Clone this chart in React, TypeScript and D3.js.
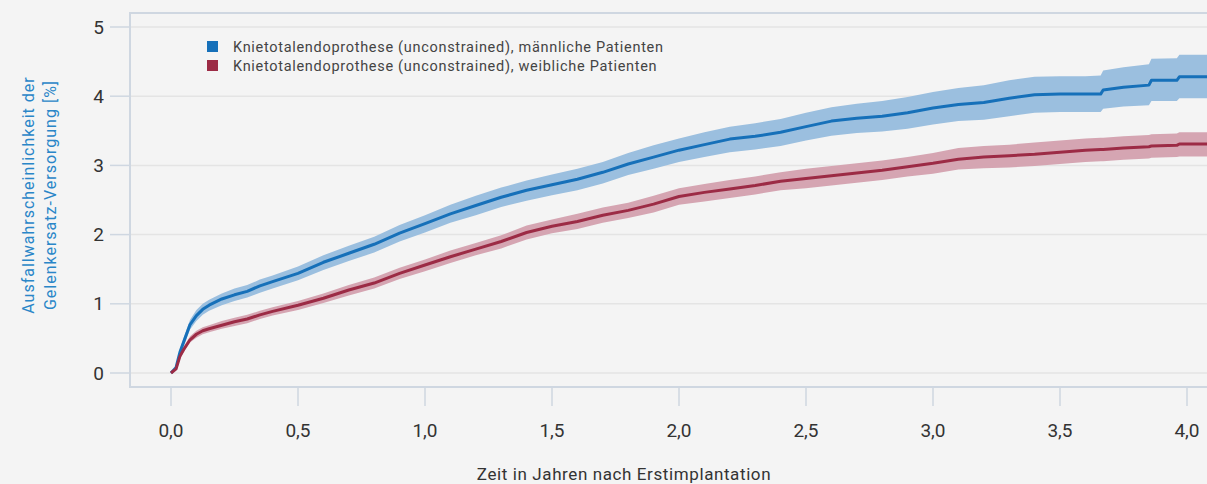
import React from "react";
import * as d3 from "d3";

const time = [0, 0.02, 0.035, 0.05, 0.075, 0.1, 0.125, 0.15, 0.2, 0.25, 0.3, 0.35, 0.4, 0.5, 0.6, 0.7, 0.8, 0.9, 1.0, 1.1, 1.2, 1.3, 1.4, 1.5, 1.6, 1.7, 1.8, 1.9, 2.0, 2.1, 2.2, 2.3, 2.4, 2.5, 2.6, 2.7, 2.8, 2.9, 3.0, 3.1, 3.2, 3.3, 3.4, 3.5, 3.6, 3.66, 3.67, 3.75, 3.85, 3.86, 3.96, 3.97, 4.0, 4.2];

const maleValue = [0, 0.08, 0.3, 0.45, 0.7, 0.83, 0.92, 0.98, 1.07, 1.13, 1.18, 1.26, 1.32, 1.44, 1.6, 1.73, 1.86, 2.02, 2.16, 2.3, 2.42, 2.54, 2.64, 2.72, 2.8, 2.9, 3.02, 3.12, 3.22, 3.3, 3.38, 3.42, 3.48, 3.56, 3.64, 3.68, 3.71, 3.76, 3.83, 3.88, 3.91, 3.97, 4.02, 4.03, 4.03, 4.03, 4.09, 4.13, 4.16, 4.23, 4.23, 4.28, 4.28, 4.28];
const maleLower = [0, 0.05, 0.25, 0.39, 0.63, 0.75, 0.84, 0.9, 0.98, 1.04, 1.09, 1.16, 1.22, 1.34, 1.49, 1.62, 1.74, 1.9, 2.03, 2.17, 2.28, 2.4, 2.49, 2.57, 2.64, 2.74, 2.86, 2.95, 3.05, 3.12, 3.19, 3.23, 3.28, 3.36, 3.43, 3.47, 3.49, 3.53, 3.59, 3.64, 3.66, 3.71, 3.76, 3.77, 3.77, 3.77, 3.82, 3.85, 3.87, 3.93, 3.93, 3.97, 3.97, 3.97];
const maleUpper = [0, 0.11, 0.35, 0.51, 0.77, 0.91, 1.0, 1.06, 1.15, 1.22, 1.27, 1.35, 1.41, 1.54, 1.7, 1.84, 1.97, 2.14, 2.28, 2.43, 2.56, 2.68, 2.78, 2.87, 2.95, 3.05, 3.18, 3.29, 3.39, 3.48, 3.56, 3.61, 3.67, 3.76, 3.84, 3.89, 3.93, 3.99, 4.06, 4.12, 4.16, 4.23, 4.28, 4.29, 4.29, 4.3, 4.37, 4.42, 4.46, 4.54, 4.55, 4.6, 4.6, 4.6];

const femaleValue = [0, 0.06, 0.24, 0.34, 0.48, 0.56, 0.61, 0.64, 0.69, 0.74, 0.78, 0.84, 0.89, 0.98, 1.08, 1.2, 1.3, 1.44, 1.56, 1.68, 1.79, 1.9, 2.03, 2.12, 2.19, 2.28, 2.35, 2.44, 2.55, 2.61, 2.66, 2.71, 2.77, 2.81, 2.85, 2.89, 2.93, 2.98, 3.03, 3.09, 3.12, 3.14, 3.16, 3.19, 3.22, 3.23, 3.23, 3.25, 3.27, 3.28, 3.29, 3.31, 3.31, 3.31];
const femaleLower = [0, 0.04, 0.2, 0.3, 0.44, 0.51, 0.56, 0.59, 0.64, 0.68, 0.72, 0.78, 0.83, 0.91, 1.01, 1.12, 1.22, 1.36, 1.47, 1.59, 1.7, 1.8, 1.93, 2.02, 2.08, 2.17, 2.24, 2.32, 2.43, 2.48, 2.53, 2.58, 2.64, 2.67, 2.71, 2.75, 2.79, 2.84, 2.88, 2.94, 2.96, 2.97, 2.99, 3.02, 3.05, 3.06, 3.06, 3.08, 3.1, 3.11, 3.12, 3.13, 3.13, 3.13];
const femaleUpper = [0, 0.08, 0.28, 0.38, 0.53, 0.61, 0.66, 0.69, 0.75, 0.8, 0.84, 0.9, 0.95, 1.04, 1.15, 1.27, 1.38, 1.52, 1.64, 1.77, 1.88, 1.99, 2.13, 2.22, 2.3, 2.39, 2.46, 2.56, 2.67, 2.73, 2.79, 2.84, 2.9, 2.95, 2.99, 3.03, 3.07, 3.12, 3.18, 3.25, 3.28, 3.3, 3.33, 3.36, 3.39, 3.4, 3.4, 3.42, 3.44, 3.45, 3.46, 3.48, 3.48, 3.48];

const xTicks = [0, 0.5, 1.0, 1.5, 2.0, 2.5, 3.0, 3.5, 4.0];
const yTicks = [0, 1, 2, 3, 4, 5];
const legendLabels = [
  "Knietotalendoprothese (unconstrained), männliche Patienten",
  "Knietotalendoprothese (unconstrained), weibliche Patienten",
];

const W = 1207;
const H = 484;
const FONT = "Roboto, 'DejaVu Sans', sans-serif";

export default function App() {
  const x = d3.scaleLinear().domain([0, 4]).range([171, 1187]);
  const y = d3.scaleLinear().domain([0, 5]).range([373, 27]);
  const frame = { left: 130, top: 13, bottom: 387 };

  const series = [
    { v: maleValue, lo: maleLower, hi: maleUpper, line: "#1670b9", band: "#9bbfdf" },
    { v: femaleValue, lo: femaleLower, hi: femaleUpper, line: "#9c2b45", band: "#d5a5b2" },
  ];

  const area = (lo: number[], hi: number[]) =>
    d3
      .area<number>()
      .x((_, i) => x(time[i]))
      .y0((_, i) => y(lo[i]))
      .y1((_, i) => y(hi[i]))
      .curve(d3.curveLinear)(time as any) as string;
  const line = (v: number[]) =>
    d3
      .line<number>()
      .x((_, i) => x(time[i]))
      .y((_, i) => y(v[i]))
      .curve(d3.curveLinear)(time as any) as string;

  const fmt = (d: number) => d.toFixed(1).replace(".", ",");

  return (
    <div style={{ position: "fixed", left: 0, top: 0, width: W, height: H, background: "#f4f4f4" }}>
      <svg width={W} height={H} style={{ display: "block" }} fontFamily={FONT}>
        <rect x={0} y={0} width={W} height={H} fill="#f4f4f4" />
        <defs>
          <clipPath id="plotclip">
            <rect x={frame.left} y={frame.top} width={W - frame.left} height={frame.bottom - frame.top} />
          </clipPath>
        </defs>
        {/* grid */}
        {yTicks.map((t) => (
          <line key={"g" + t} x1={frame.left} x2={W} y1={y(t)} y2={y(t)} stroke="#e4e4e4" strokeWidth={1.5} />
        ))}
        {/* frame */}
        <rect x={frame.left} y={frame.top} width={W - frame.left + 20} height={frame.bottom - frame.top} fill="none" stroke="#cfd7e1" strokeWidth={2} />
        {/* y ticks */}
        {yTicks.map((t) => (
          <g key={"y" + t}>
            <line x1={110} x2={frame.left} y1={y(t)} y2={y(t)} stroke="#cfd7e1" strokeWidth={1.5} />
            <text x={104} y={y(t)} dy="0.35em" textAnchor="end" fontSize={19} fill="#333">
              {t}
            </text>
          </g>
        ))}
        {/* x ticks */}
        {xTicks.map((t) => (
          <g key={"x" + t}>
            <line x1={x(t)} x2={x(t)} y1={frame.bottom} y2={406} stroke="#cfd7e1" strokeWidth={1.5} />
            <text x={x(t)} y={437} textAnchor="middle" fontSize={19} fill="#333">
              {fmt(t)}
            </text>
          </g>
        ))}
        {/* data */}
        <g clipPath="url(#plotclip)">
          {series.map((s, i) => (
            <path key={"a" + i} d={area(s.lo, s.hi)} fill={s.band} />
          ))}
          {series.map((s, i) => (
            <path key={"l" + i} d={line(s.v)} fill="none" stroke={s.line} strokeWidth={3} strokeLinejoin="round" />
          ))}
        </g>
        {/* legend */}
        {legendLabels.map((lab, i) => (
          <g key={"lg" + i}>
            <rect x={207} y={41 + i * 19} width={11} height={11} fill={series[i].line} />
            <text x={233} y={51.5 + i * 19} fontSize={14.5} letterSpacing={0.7} fill="#444">
              {lab}
            </text>
          </g>
        ))}
        {/* y title */}
        <text transform="translate(34,195) rotate(-90)" textAnchor="middle" fontSize={16} letterSpacing={1} fill="#2a86c8">
          Ausfallwahrscheinlichkeit der
        </text>
        <text transform="translate(56,195) rotate(-90)" textAnchor="middle" fontSize={16} letterSpacing={1} fill="#2a86c8">
          Gelenkersatz-Versorgung [%]
        </text>
        {/* x title */}
        <text x={624} y={480} textAnchor="middle" fontSize={17} letterSpacing={0.6} fill="#333">
          Zeit in Jahren nach Erstimplantation
        </text>
      </svg>
    </div>
  );
}
